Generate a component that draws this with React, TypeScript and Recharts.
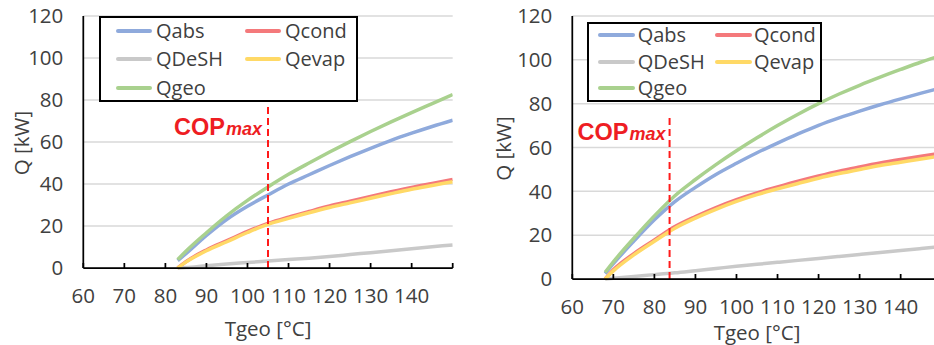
import React from 'react';
import { LineChart, Line, XAxis, YAxis, CartesianGrid, Legend, ReferenceLine, ReferenceDot } from 'recharts';

// ---------- shared ----------
const SERIES = ['Qabs', 'Qcond', 'QDeSH', 'Qevap', 'Qgeo'];
const COLORS = ['#8FAADC', '#F4797B', '#C9C9C9', '#FFD966', '#A9D18E'];
const xTicks = [60, 70, 80, 90, 100, 110, 120, 130, 140, 150];
const yTicks = [0, 20, 40, 60, 80, 100, 120];
const X_TITLE = 'Tgeo [°C]';
const Y_TITLE = 'Q [kW]';
const COP_LABEL_Q = 63.5;

// ---------- left chart data ----------
const tLeft = [83, 85, 90, 95, 100, 105, 110, 115, 120, 125, 130, 135, 140, 145, 150];
const qabsLeft = [3.5, 6.8, 15.5, 23.2, 29.4, 34.8, 40.0, 44.4, 48.8, 53.0, 57.0, 60.8, 64.2, 67.4, 70.4];
const qcondLeft = [0, 3.0, 8.6, 13.0, 17.4, 21.2, 24.2, 26.9, 29.5, 31.8, 34.1, 36.3, 38.4, 40.3, 42.2];
const qdeshLeft = [0, 0.2, 1.1, 1.9, 2.6, 3.3, 4.0, 4.7, 5.5, 6.4, 7.3, 8.2, 9.2, 10.1, 11.0];
const qevapLeft = [0, 2.8, 8.2, 12.5, 16.9, 20.8, 23.6, 26.3, 28.8, 31.0, 33.2, 35.4, 37.5, 39.3, 41.1];
const qgeoLeft = [4.0, 8.0, 16.8, 25.0, 32.2, 38.6, 44.6, 50.0, 55.2, 60.2, 65.0, 69.6, 74.0, 78.3, 82.6];
const copLeft = 105;
const copTopLeft = 77;

// ---------- right chart data ----------
const tRight = [68, 70, 75, 80, 85, 90, 95, 100, 105, 110, 115, 120, 125, 130, 135, 140, 145, 150];
const qabsRight = [2.5, 7.0, 17.3, 27.0, 35.3, 41.8, 47.7, 52.8, 57.6, 62.0, 66.2, 70.1, 73.5, 76.6, 79.5, 82.2, 84.8, 87.3];
const qcondRight = [0, 4.2, 11.6, 17.8, 23.9, 28.5, 32.6, 36.2, 39.3, 42.0, 44.6, 47.0, 49.2, 51.1, 52.9, 54.5, 56.0, 57.4];
const qdeshRight = [0, 0.3, 1.1, 2.0, 2.8, 3.8, 4.8, 5.8, 6.7, 7.6, 8.5, 9.4, 10.3, 11.2, 12.1, 13.0, 13.9, 14.8];
const qevapRight = [0, 3.7, 11.0, 17.2, 23.2, 27.8, 31.8, 35.4, 38.5, 41.1, 43.6, 46.0, 48.1, 50.0, 51.8, 53.3, 54.8, 56.2];
const qgeoRight = [3.0, 7.8, 18.6, 28.8, 38.0, 45.4, 52.2, 58.5, 64.4, 70.0, 75.2, 80.0, 84.4, 88.4, 92.1, 95.6, 99.0, 102.1];
const copRight = 83.7;
const copTopRight = 74;

const build = (t: number[], cols: number[][]) =>
  t.map((v, i) => {
    const row: Record<string, number> = { t: v };
    SERIES.forEach((s, k) => (row[s] = cols[k][i]));
    return row;
  });

const leftData = build(tLeft, [qabsLeft, qcondLeft, qdeshLeft, qevapLeft, qgeoLeft]);
const rightData = build(tRight, [qabsRight, qcondRight, qdeshRight, qevapRight, qgeoRight]);

const FONT = '"Open Sans", "Noto Sans", sans-serif';
const FS = 20.5;
const LFS = 20;
const TEXT = '#404040';
const RED = '#EE1D23';

type LegendCfg = {
  left: number; top: number; width: number; height: number;
  lineX: number[]; lineLen: number; textX: number[]; rowY: number[];
};

type Cfg = {
  left: number; width: number; height: number;
  marginRight: number; yAxisWidth: number; xAxisHeight: number;
  data: Record<string, number>[];
  cop: number; copTop: number; copGap: number;
  xTitleDy: number; yTitleX: number;
  legend: LegendCfg;
};

function makeLegend(lg: LegendCfg) {
  return () => (
    <div style={{ position: 'relative', width: '100%', height: '100%' }}>
      {SERIES.map((s, i) => {
        const col = i % 2;
        const row = Math.floor(i / 2);
        const y = lg.rowY[row] - 2;
        return (
          <React.Fragment key={s}>
            <div
              style={{
                position: 'absolute', left: lg.lineX[col] - 2, top: y - 2, width: lg.lineLen, height: 4,
                background: COLORS[i], borderRadius: 2,
              }}
            />
            <div
              style={{
                position: 'absolute', left: lg.textX[col] - 2, top: y - 13, height: 26, lineHeight: '26px',
                fontFamily: FONT, fontSize: LFS, color: TEXT, whiteSpace: 'nowrap',
              }}
            >
              {s}
            </div>
          </React.Fragment>
        );
      })}
    </div>
  );
}

function QChart({ cfg }: { cfg: Cfg }) {
  const lg = cfg.legend;
  return (
    <div style={{ position: 'absolute', left: cfg.left, top: 0 }}>
      <LineChart
        width={cfg.width}
        height={cfg.height}
        data={cfg.data}
        margin={{ top: 16, right: cfg.marginRight, left: 0, bottom: 0 }}
      >
        <CartesianGrid vertical={false} stroke="#D9D9D9" strokeWidth={1.5} />
        <XAxis
          type="number"
          dataKey="t"
          domain={[60, 150]}
          ticks={xTicks}
          allowDataOverflow
          height={cfg.xAxisHeight}
          tickSize={-5}
          tickMargin={25.5}
          axisLine={{ stroke: '#000', strokeWidth: 1.75 }}
          tickLine={{ stroke: '#000', strokeWidth: 1.75 }}
          tick={{ fill: TEXT, fontSize: FS, fontFamily: FONT }}
          tickFormatter={(v: number) => (v === 150 ? '' : String(v))}
          label={(p: any) => {
            const vb = p.viewBox;
            return (
              <text
                x={vb.x + vb.width / 2}
                y={vb.y + cfg.xTitleDy}
                textAnchor="middle"
                dominantBaseline="central"
                fill={TEXT}
                fontSize={FS}
                fontFamily={FONT}
              >
                {X_TITLE}
              </text>
            );
          }}
        />
        <YAxis
          type="number"
          domain={[0, 120]}
          ticks={yTicks}
          width={cfg.yAxisWidth}
          tickSize={0}
          tickMargin={20}
          tickLine={false}
          axisLine={{ stroke: '#000', strokeWidth: 1.75 }}
          tick={{ fill: TEXT, fontSize: FS, fontFamily: FONT }}
          label={(p: any) => {
            const vb = p.viewBox;
            const cx = vb.x + cfg.yTitleX;
            const cy = vb.y + vb.height / 2 + 1;
            return (
              <text
                x={cx}
                y={cy}
                transform={`rotate(-90 ${cx} ${cy})`}
                textAnchor="middle"
                dominantBaseline="central"
                fill={TEXT}
                fontSize={FS}
                fontFamily={FONT}
              >
                {Y_TITLE}
              </text>
            );
          }}
        />
        {SERIES.map((s, i) => (
          <Line
            key={s}
            dataKey={s}
            stroke={COLORS[i]}
            strokeWidth={3.5}
            dot={false}
            activeDot={false}
            type="monotone"
            isAnimationActive={false}
          />
        ))}
        <ReferenceLine
          segment={[{ x: cfg.cop, y: 0 }, { x: cfg.cop, y: cfg.copTop }]}
          stroke="#FF1A1A"
          strokeWidth={2}
          strokeDasharray="7 4"
        />
        <ReferenceDot
          x={cfg.cop}
          y={COP_LABEL_Q}
          r={0}
          fill="none"
          stroke="none"
          label={(p: any) => {
            const vb = p.viewBox;
            return (
              <text
                x={vb.x - cfg.copGap}
                y={vb.y}
                textAnchor="end"
                fill={RED}
                fontFamily='"Liberation Sans", Arial, sans-serif'
                fontWeight="bold"
              >
                <tspan fontSize={23.5}>COP</tspan>
                <tspan fontSize={18} fontStyle="italic" dx={1}>max</tspan>
              </text>
            );
          }}
        />
        <Legend
          layout="horizontal"
          verticalAlign="middle"
          align="center"
          content={makeLegend(lg)}
          wrapperStyle={{
            left: lg.left, top: lg.top, width: lg.width, height: lg.height,
            border: '2px solid #000', boxSizing: 'border-box', background: '#fff',
          }}
        />
      </LineChart>
    </div>
  );
}

const leftCfg: Cfg = {
  left: 0, width: 470, height: 345,
  marginRight: 17.3, yAxisWidth: 83.3, xAxisHeight: 77,
  data: leftData,
  cop: copLeft, copTop: copTopLeft, copGap: 6,
  xTitleDy: 60, yTitleX: 20.5,
  legend: {
    left: 99, top: 16, width: 258.7, height: 85.7,
    lineX: [17, 146], lineLen: 35.7, textX: [57, 186], rowY: [14.7, 43.3, 71.7],
  },
};

const rightCfg: Cfg = {
  left: 470, width: 480, height: 345,
  marginRight: 8.3, yAxisWidth: 102.3, xAxisHeight: 66,
  data: rightData,
  cop: copRight, copTop: copTopRight, copGap: 4,
  xTitleDy: 52.5, yTitleX: 33.3,
  legend: {
    left: 116.7, top: 22, width: 235, height: 79.7,
    lineX: [11.6, 128.3], lineLen: 36.7, textX: [51, 167.3], rowY: [12.7, 39.7, 66.3],
  },
};

export default function App() {
  return (
    <div
      style={{
        position: 'fixed', left: 0, top: 0, width: 934, height: 345,
        overflow: 'hidden', background: '#fff', fontFamily: FONT,
      }}
    >
      <QChart cfg={leftCfg} />
      <QChart cfg={rightCfg} />
    </div>
  );
}
